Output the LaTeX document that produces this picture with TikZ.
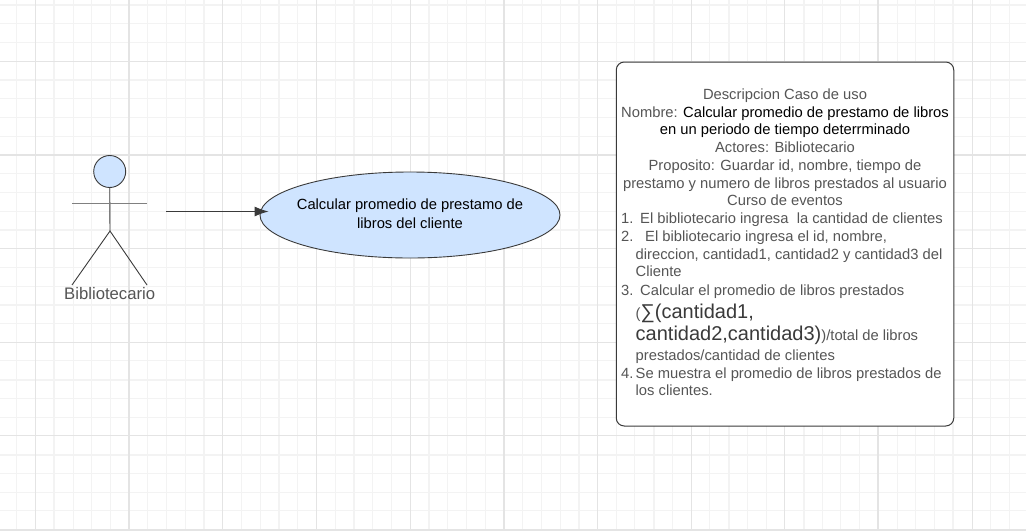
\documentclass[tikz,border=0pt]{standalone}
\usepackage{fontspec}
\setmainfont{Liberation Sans}
\usepackage{xcolor}
\usetikzlibrary{shapes,positioning,calc,arrows.meta}
\definecolor{textgray}{HTML}{555555}
\definecolor{usefill}{HTML}{CFE4FF}
\definecolor{linedark}{HTML}{3A3A3A}
\definecolor{gridsoft}{HTML}{F3F3F3}
\definecolor{gridmid}{HTML}{E4E4E4}
\tikzset{
    gridthin/.style={draw=gridsoft, line width=1pt},
    gridthick/.style={draw=gridsoft, line width=2pt},
    gridmajor/.style={draw=gridmid, line width=1pt},
    gridheavy/.style={draw=gridmid, line width=2pt},
    actorline/.style={draw=linedark, line width=0.9pt},
    flow/.style={draw=linedark, line width=0.9pt, -{Latex[length=14pt,width=10pt]}},
    usecase/.style={ellipse, draw=linedark, fill=usefill, line width=0.9pt, minimum width=300pt, minimum height=86pt, inner sep=0pt},
    descbox/.style={rectangle, rounded corners=8pt, draw=linedark, fill=white, line width=1pt, minimum width=337.5pt, minimum height=364pt},
    ctxt/.style={anchor=base, inner sep=0pt, yshift=-0.7pt, text=textgray, font=\fontsize{14.75pt}{18pt}\selectfont},
    ltxt/.style={anchor=base west, inner sep=0pt, yshift=-0.7pt, text=textgray, font=\fontsize{14.75pt}{18pt}\selectfont}
}
\begin{document}
\begin{tikzpicture}[x=1pt, y=-1pt]
    \useasboundingbox (0,0) rectangle (1026,531);

    % grid
    \foreach \i in {-1,...,53}
        \draw[gridthin] ({35.6+18.73*\i},0) -- ++(0,531);
    \foreach \i in {-3,...,25}
        \draw[gridthin] (0,{61.3+18.73*\i}) -- ++(1026,0);
    \foreach \i in {1,5,...,53}
        \draw[gridthick] ({35.6+18.73*\i},0) -- ++(0,531);
    \foreach \i in {-3,1,...,25}
        \draw[gridthick] (0,{61.3+18.73*\i}) -- ++(1026,0);
    \foreach \i in {0,5,...,50}
        \draw[gridmajor] ({35.6+18.73*\i},0) -- ++(0,531);
    \foreach \i in {0,5,...,25}
        \draw[gridmajor] (0,{61.3+18.73*\i}) -- ++(1026,0);
    \foreach \i in {5,25,45}
        \draw[gridheavy] ({35.6+18.73*\i},0) -- ++(0,531);
    \foreach \i in {5,25}
        \draw[gridheavy] (0,{61.3+18.73*\i}) -- ++(1026,0);

    % actor
    \node[circle, draw=linedark, fill=usefill, line width=0.9pt, minimum size=32pt, inner sep=0pt] (head) at (109.7,171.5) {};
    \coordinate (hip) at (110,231);
    \coordinate (armL) at (72,203.5);
    \coordinate (armR) at (147,203.5);
    \coordinate (footL) at (72,285);
    \coordinate (footR) at (147,285);
    \draw[actorline] (head.south) -- (hip);
    \draw[draw=gray, line width=1pt] (armL) -- (armR);
    \draw[actorline] (footL) -- (hip) -- (footR);
    \node[anchor=base, inner sep=0pt, text=textgray, font=\fontsize{16.7pt}{18pt}\selectfont] (actorname) at (109.7,299) {Bibliotecario};

    % use case
    \node[usecase] (calc) at (410,215) {};
    \node[align=center, inner sep=0pt, font=\fontsize{14.75pt}{19pt}\selectfont] (calctext) at (410,214) {Calcular promedio de prestamo de\\libros del cliente};
    \coordinate (actorout) at (166,211.5);
    \draw[flow] (actorout) -- ([xshift=9pt,yshift=3.5pt]calc.west);

    % description
    \node[descbox] (desc) at (785,244) {};
    \node[ctxt] (d1) at (785,98.3) {Descripcion Caso de uso};
    \node[ctxt] (d2) at (785,116.3) {Nombre: \textcolor{black}{Calcular promedio de prestamo de libros}};
    \node[ctxt, text=black] (d3) at (785,134.2) {en un periodo de tiempo deterrminado};
    \node[ctxt] (d4) at (785,152) {Actores: Bibliotecario};
    \node[ctxt] (d5) at (785,169.8) {Proposito: Guardar id, nombre, tiempo de};
    \node[ctxt] (d6) at (785,187.7) {prestamo y numero de libros prestados al usuario};
    \node[ctxt] (d7) at (785,205.2) {Curso de eventos};

    \node[ltxt] (n1) at (621,222.7) {1.};
    \node[ltxt] (e1) at (640,222.7) {El bibliotecario ingresa\ \ la cantidad de clientes};
    \node[ltxt] (n2) at (621,241) {2.};
    \node[ltxt] (e2) at (645,241) {El bibliotecario ingresa el id, nombre,};
    \node[ltxt] (e2b) at (635.5,258.3) {direccion, cantidad1, cantidad2 y cantidad3 del};
    \node[ltxt] (e2c) at (635.5,276) {Cliente};
    \node[ltxt] (n3) at (621,294.3) {3.};
    \node[ltxt] (e3) at (640,294.3) {Calcular el promedio de libros prestados};
    \node[ltxt] (e3b) at (635.5,317.7) {(\textcolor{linedark}{\fontsize{20pt}{24pt}\selectfont ∑(cantidad1,}};
    \node[ltxt] (e3c) at (635.5,339.3) {\textcolor{linedark}{\fontsize{20pt}{24pt}\selectfont cantidad2,cantidad3)})/total de libros};
    \node[ltxt] (e3d) at (635.5,359.3) {prestados/cantidad de clientes};
    \node[ltxt] (n4) at (621,377.3) {4.};
    \node[ltxt] (e4) at (635.5,377.3) {Se muestra el promedio de libros prestados de};
    \node[ltxt] (e4b) at (635.5,395) {los clientes.};
\end{tikzpicture}
\end{document}
